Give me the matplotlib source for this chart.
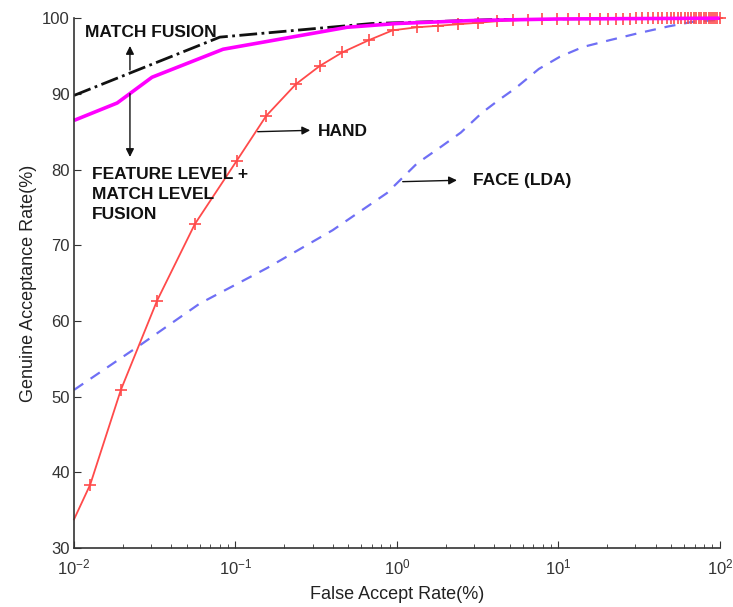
import matplotlib
matplotlib.use('Agg')
from matplotlib import pyplot as plt

plt.rcParams['font.family'] = ['Liberation Sans', 'DejaVu Sans']

# FAR (%) vs GAR (%)
hand_far = [0.01, 0.0126, 0.0195, 0.0327, 0.056, 0.102, 0.155, 0.237, 0.333,
            0.46, 0.67, 0.94, 1.33, 1.80, 2.39, 3.17, 4.16, 5.2, 6.5, 7.9,
            9.8, 11.5, 13.4, 15.7, 18.1, 20.3, 22.7, 25.1, 27.7, 30.3, 33,
            35.7, 38.5, 41.2, 44, 46.8, 49.5, 52.3, 55, 57.8, 60.6, 63.3, 66,
            68.8, 71.5, 74.3, 77, 79.8, 82.6, 85.3, 88, 90.8, 93.5, 96.3, 100]
hand_gar = [33.8, 38.4, 50.9, 62.7, 72.8, 81.2, 87.1, 91.3, 93.7,
            95.5, 97.1, 98.4, 98.8, 99.0, 99.2, 99.4, 99.6, 99.7, 99.8, 99.85,
            99.9, 99.9, 99.9, 99.9, 99.9, 99.95, 99.95, 99.95, 99.95, 100, 100,
            100, 100, 100, 100, 100, 100, 100, 100, 100, 100, 100, 100,
            100, 100, 100, 100, 100, 100, 100, 100, 100, 100, 100, 100]

face_far = [0.01, 0.0256, 0.06, 0.157, 0.4, 0.867, 1.33, 1.87, 2.49, 3.36,
            4.28, 5.46, 7.57, 10.2, 14.2, 20.8, 31, 47.6, 67, 100]
face_gar = [50.9, 56.8, 62.3, 67.0, 72.0, 76.9, 80.8, 83.0, 84.9, 87.5,
            89.2, 90.8, 93.3, 94.9, 96.2, 97.1, 98.0, 98.9, 99.5, 99.8]

feat_far = [0.01, 0.0185, 0.0304, 0.0838, 0.49, 1.0, 3.0, 10, 100]
feat_gar = [86.5, 88.8, 92.2, 95.9, 98.8, 99.3, 99.7, 99.9, 100]

match_far = [0.01, 0.08, 0.3, 0.7, 2, 5, 100]
match_gar = [89.8, 97.5, 98.6, 99.3, 99.6, 99.9, 100]

fig = plt.figure(figsize=(7.33, 6.07), dpi=100)
ax = fig.add_axes([0.101, 0.097, 0.881, 0.873])
ax.set_ylim(30, 100.6)

ax.semilogx(face_far, face_gar, '--', color='#6f6ff5', lw=1.6, dashes=(5, 4))
ax.semilogx(hand_far, hand_gar, '-', color='#ff4a4a', lw=1.3, marker='+',
            ms=9, mew=1.2, markevery=slice(1, None), clip_on=False)
ax.semilogx(match_far, match_gar, '-.', color='#111111', lw=2.0)
ax.semilogx(feat_far, feat_gar, '-', color='#ff00ff', lw=2.6)

ax.set_xlim(0.01, 100)
ax.set_ylim(30, 100)
ax.set_yticks(range(30, 101, 10))
ax.spines['top'].set_visible(False)
ax.spines['right'].set_visible(False)
for s in ['left', 'bottom']:
    ax.spines[s].set_color('#333333')
    ax.spines[s].set_linewidth(1.2)
ax.tick_params(which='both', direction='in', colors='#333333', labelsize=12)
ax.tick_params(axis='x', pad=7)
ax.tick_params(axis='y', pad=3)
ax.tick_params(which='major', length=5)
ax.tick_params(which='minor', length=3)
ax.set_xlabel('False Accept Rate(%)', fontsize=13, color='#222222', labelpad=6)
ax.set_ylabel('Genuine Acceptance Rate(%)', fontsize=13, color='#222222')

# the magenta line sits on the 100 % edge, so let it show past the clip box
ax.lines[-1].set_clip_on(False)
ax.lines[-1].set_solid_capstyle('butt')

bold = dict(fontsize=12.5, fontweight='bold', color='#111111')
arrow = dict(arrowstyle='-|>', color='#111111', lw=1.0, mutation_scale=12)

ax.annotate('', xy=(0.0222, 96.7), xytext=(0.0222, 92.8), arrowprops=arrow)
ax.text(0.0117, 98.1, 'MATCH FUSION', va='center', ha='left', **bold)

ax.annotate('', xy=(0.0222, 81.3), xytext=(0.0222, 90.4), arrowprops=arrow)
ax.text(0.0129, 80.3, 'FEATURE LEVEL +\nMATCH LEVEL\nFUSION', va='top',
        ha='left', linespacing=1.4, **bold)

ax.annotate('', xy=(0.302, 85.2), xytext=(0.132, 85.0), arrowprops=arrow)
ax.text(0.3245, 85.1, 'HAND', va='center', ha='left', **bold)

ax.annotate('', xy=(2.45, 78.6), xytext=(1.044, 78.4), arrowprops=arrow)
ax.text(2.95, 78.5, 'FACE (LDA)', va='center', ha='left', **bold)

fig.savefig('out.png', dpi=100)
